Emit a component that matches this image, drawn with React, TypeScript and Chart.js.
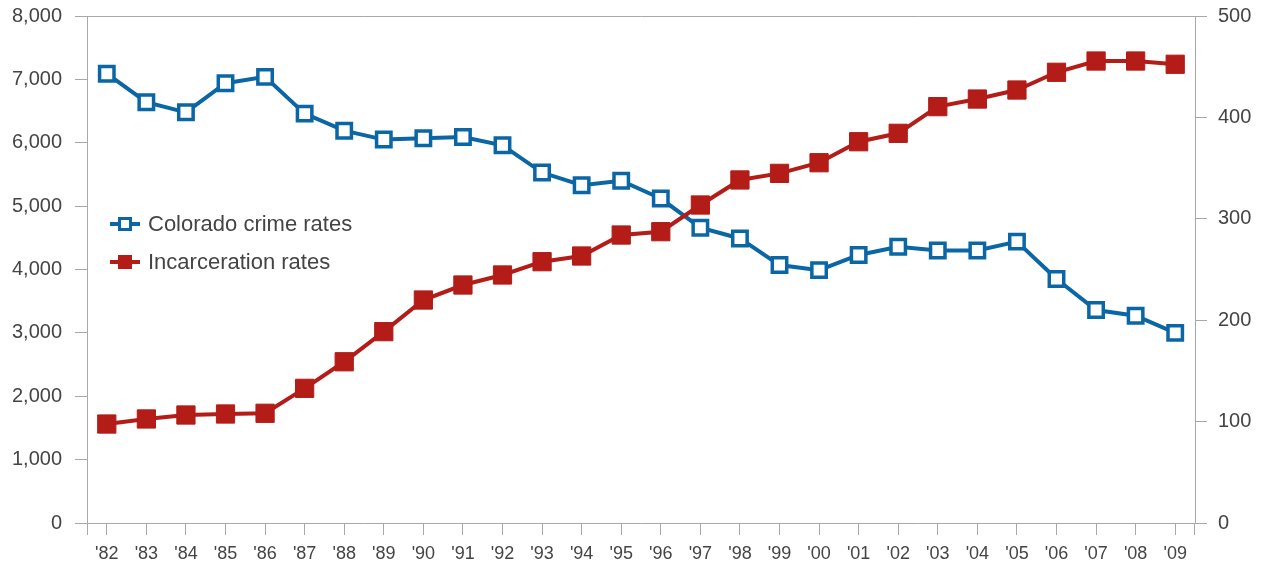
import React, { useEffect, useRef } from "react";
import { Chart, registerables } from "chart.js";

Chart.register(...registerables);

const years = ["'82","'83","'84","'85","'86","'87","'88","'89","'90","'91","'92","'93","'94","'95","'96","'97","'98","'99","'00","'01","'02","'03","'04","'05","'06","'07","'08","'09"];
const crimeRates = [7090,6640,6480,6940,7040,6460,6190,6050,6070,6090,5960,5530,5330,5400,5120,4660,4490,4070,3990,4230,4360,4300,4300,4440,3850,3360,3270,3000];
const incarcerationRates = [97.6,102.6,106.5,107.5,108.2,132.8,159,188.7,219.9,234.7,244.6,257.7,263.3,284,287.3,313.6,338.3,344.8,355.3,376,384.3,410.6,418.1,427,444.5,455.6,455.6,452.4];
const seriesNames = ["Colorado crime rates", "Incarceration rates"];

const BLUE = "#0b66a6";
const RED = "#b31c17";
const AXIS = "#a8a8a8";
const TEXT = "#444444";
const FONT = "'Liberation Sans', Arial, sans-serif";

const extrasPlugin = {
  id: "extras",
  afterDraw(chart: any) {
    const ctx = chart.ctx;
    const a = chart.chartArea;
    ctx.save();
    ctx.strokeStyle = AXIS;
    ctx.lineWidth = 1;
    ctx.beginPath();
    ctx.moveTo(a.left + 0.5, a.bottom);
    ctx.lineTo(a.left + 0.5, a.bottom + 12);
    ctx.moveTo(a.right - 0.5, a.bottom);
    ctx.lineTo(a.right - 0.5, a.bottom + 12);
    ctx.stroke();
    const rows = [
      { y: 224, color: BLUE, open: true, label: seriesNames[0] },
      { y: 262, color: RED, open: false, label: seriesNames[1] },
    ];
    ctx.font = `22px ${FONT}`;
    ctx.textBaseline = "middle";
    ctx.textAlign = "left";
    for (const r of rows) {
      ctx.strokeStyle = r.color;
      ctx.lineWidth = 4;
      ctx.beginPath();
      ctx.moveTo(110, r.y);
      ctx.lineTo(140, r.y);
      ctx.stroke();
      if (r.open) {
        ctx.fillStyle = "#ffffff";
        ctx.fillRect(119.5, r.y - 5.5, 11, 11);
        ctx.lineWidth = 3;
        ctx.strokeRect(119.5, r.y - 5.5, 11, 11);
      } else {
        ctx.fillStyle = r.color;
        ctx.fillRect(118, r.y - 7, 14, 14);
      }
      ctx.fillStyle = TEXT;
      ctx.fillText(r.label, 148, r.y + 1);
    }
    ctx.restore();
  },
};

export default function App() {
  const ref = useRef<HTMLCanvasElement | null>(null);
  useEffect(() => {
    document.body.style.margin = "0";
    const canvas = ref.current!;
    const chart = new Chart(canvas, {
      type: "line",
      data: {
        labels: years,
        datasets: [
          {
            label: seriesNames[0],
            data: crimeRates,
            yAxisID: "y",
            borderColor: BLUE,
            borderWidth: 4,
            pointStyle: "rect",
            pointRadius: 10.2,
            pointBorderWidth: 3.5,
            pointBorderColor: BLUE,
            pointBackgroundColor: "#ffffff",
            tension: 0,
            order: 1,
          },
          {
            label: seriesNames[1],
            data: incarcerationRates,
            yAxisID: "y1",
            borderColor: RED,
            borderWidth: 4,
            pointStyle: "rect",
            pointRadius: 12.9,
            pointBorderWidth: 1,
            pointBorderColor: RED,
            pointBackgroundColor: RED,
            tension: 0,
            order: 0,
          },
        ],
      },
      options: {
        responsive: false,
        animation: false,
        layout: { padding: { top: 16, left: 0, right: 0, bottom: 0 } },
        plugins: { legend: { display: false }, tooltip: { enabled: false } },
        scales: {
          x: {
            type: "category",
            offset: true,
            grid: { drawOnChartArea: false, offset: false, tickLength: 12, color: AXIS, tickColor: AXIS },
            border: { display: true, color: AXIS },
            ticks: { color: TEXT, font: { family: FONT, size: 18 }, padding: 8, maxRotation: 0, autoSkip: false },
            afterFit(scale: any) { scale.height = 46; scale.paddingLeft = 0; scale.paddingRight = 0; },
          },
          y: {
            position: "left",
            min: 0,
            max: 8000,
            ticks: {
              stepSize: 1000,
              color: TEXT,
              padding: 13,
              font: { family: FONT, size: 20 },
              callback: (v: any) => Number(v).toLocaleString("en-US"),
            },
            grid: {
              tickLength: 12,
              tickColor: AXIS,
              color: (c: any) => (c.tick && c.tick.value === 8000 ? AXIS : "rgba(0,0,0,0)"),
            },
            border: { display: true, color: AXIS },
            afterFit(scale: any) { scale.width = 87; scale.paddingTop = 0; scale.paddingBottom = 0; },
          },
          y1: {
            position: "right",
            min: 0,
            max: 500,
            ticks: { stepSize: 100, color: TEXT, padding: 11, font: { family: FONT, size: 20 } },
            grid: { drawOnChartArea: false, tickLength: 12, tickColor: AXIS, color: AXIS },
            border: { display: true, color: AXIS },
            afterFit(scale: any) { scale.width = 69; scale.paddingTop = 0; scale.paddingBottom = 0; },
          },
        },
      },
      plugins: [extrasPlugin],
    } as any);
    return () => chart.destroy();
  }, []);
  return (
    <div style={{ width: 1264, height: 569 }}>
      <canvas ref={ref} width={1264} height={569} />
    </div>
  );
}
